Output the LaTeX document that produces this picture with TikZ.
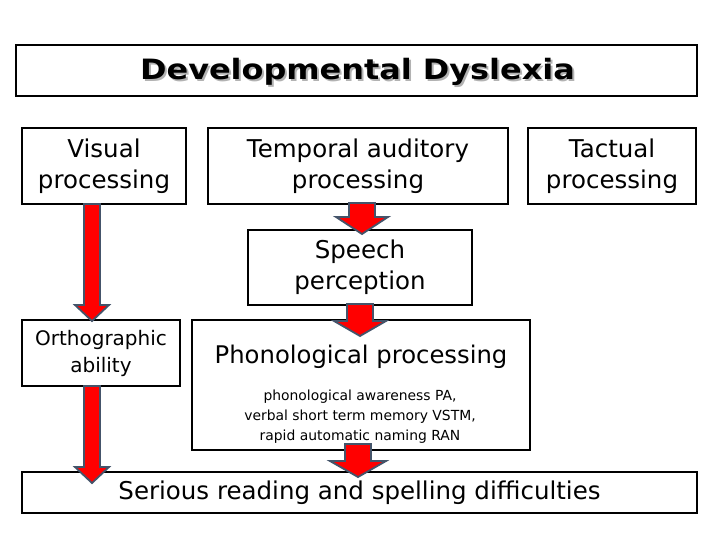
\documentclass[tikz,border=0pt]{standalone}
\usepackage{fontspec}
\setmainfont{DejaVu Sans}
\newfontfamily\titlefont{DejaVu Sans}[FakeStretch=1.14]
\usetikzlibrary{calc}
\definecolor{arrline}{HTML}{44546A}
\definecolor{arrfill}{HTML}{FF0000}
\tikzset{
  box/.style={draw=black, line width=2pt, inner sep=0pt, align=center},
  arr/.style={fill=arrfill, draw=arrline, line width=1.8pt, line join=miter},
  big/.style={font=\fontsize{24.5}{31}\selectfont},
}
% block arrow: start, end, shaft half width, head half width, head length
\newcommand\blockarr[5]{%
  \filldraw[arr] let \p1=(#1), \p2=(#2) in
    (\x1-#3pt,\y1) -- (\x1+#3pt,\y1) -- (\x1+#3pt,\y2+#5pt) -- (\x1+#4pt,\y2+#5pt)
    -- (\x1,\y2) -- (\x1-#4pt,\y2+#5pt) -- (\x1-#3pt,\y2+#5pt) -- cycle;}
\begin{document}
\begin{tikzpicture}[x=1pt,y=-1pt]
\useasboundingbox (0,0) rectangle (720,540);
\fill[white] (0,0) rectangle (720,540);
% boxes
\node[box, minimum width=681pt, minimum height=51pt] (title) at (356.5,70.5) {};
\node[text=gray!60, font=\titlefont\bfseries\fontsize{28}{30}\selectfont] (titleshadow) at (359.5,74) {Developmental Dyslexia};
\node[font=\titlefont\bfseries\fontsize{28}{30}\selectfont] (titletext) at (357.5,72) {Developmental Dyslexia};
\node[box, big, minimum width=164pt, minimum height=76pt] (vis) at (104,166) {Visual\\processing};
\node[box, big, minimum width=300pt, minimum height=76pt] (temp) at (358,166) {Temporal auditory\\processing};
\node[box, big, minimum width=168pt, minimum height=76pt] (tact) at (612,166) {Tactual\\processing};
\node[box, big, minimum width=224pt, minimum height=75pt] (speech) at (360,267.5) {Speech\\perception};
\node[box, minimum width=158pt, minimum height=66pt, font=\fontsize{20}{27}\selectfont] (ortho) at (101,353) {Orthographic\\ability};
\node[box, minimum width=338pt, minimum height=130pt] (phon) at (361,385) {};
\node[font=\fontsize{24.3}{30}\selectfont] (phontitle) at (361,357) {Phonological processing};
\node[font=\fontsize{13.9}{20}\selectfont, align=center] (phondetail) at (360,417) {phonological awareness PA,\\verbal short term memory VSTM,\\rapid automatic naming RAN};
\node[box, big, minimum width=675pt, minimum height=41pt] (serious) at (359.5,492.5) {Serious reading and spelling difficulties};
% arrow anchor coordinates (positive y offset = downwards)
\coordinate (a1s) at ($(vis.south)+(-12,-1)$);
\coordinate (a1e) at ($(ortho.north)+(-9,2)$);
\coordinate (a2s) at ($(ortho.south)+(-9,-1)$);
\coordinate (a2e) at ($(serious.north)+(-267.5,12)$);
\coordinate (a3s) at ($(temp.south)+(4,-2)$);
\coordinate (a3e) at ($(speech.north)+(2,5)$);
\coordinate (a4s) at ($(speech.south)+(0,-2)$);
\coordinate (a4e) at ($(phon.north)+(-1,17)$);
\coordinate (a5s) at ($(phon.south)+(-3,-7)$);
\coordinate (a5e) at ($(serious.north)+(-1.5,6)$);
% arrows
\blockarr{a1s}{a1e}{8}{17}{16}
\blockarr{a2s}{a2e}{8}{17}{16}
\blockarr{a3s}{a3e}{13}{26}{17}
\blockarr{a4s}{a4e}{13}{26}{15}
\blockarr{a5s}{a5e}{13}{28}{16}
\end{tikzpicture}
\end{document}
